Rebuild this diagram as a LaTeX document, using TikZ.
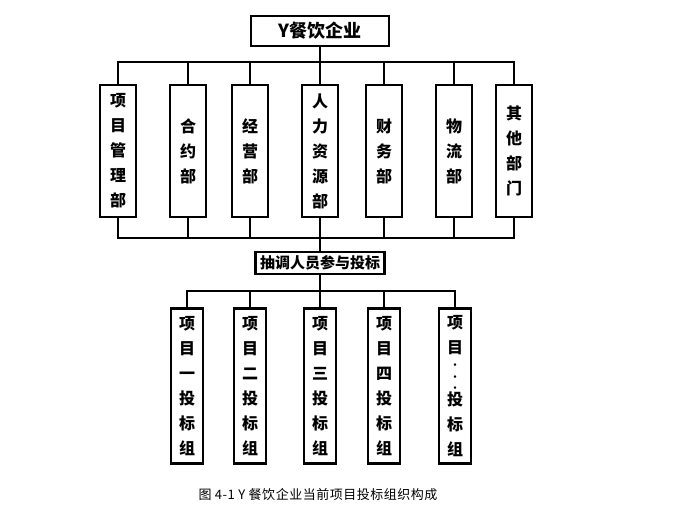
\documentclass[tikz,border=0pt]{standalone}
\usepackage{fontspec}
\newfontfamily\cjk{Noto Sans CJK SC}
\newfontfamily\cjkcap{Noto Sans CJK SC}[LetterSpace=4]
\tikzset{
  conn/.style={draw=black, line width=2.8pt},
  box/.style={draw=black, line width=2.8pt, fill=white, inner sep=0pt, align=center,
    font=\cjk\bfseries\fontsize{16}{25}\selectfont},
  deptbox/.style={box, minimum width=36pt, minimum height=132pt},
  teambox/.style={box, minimum width=32pt, minimum height=155pt}
}
\newcommand{\smalldot}{{\fontsize{9}{25}\selectfont ·}}
\begin{document}
\begin{tikzpicture}[x=1pt, y=-1pt]
      \useasboundingbox (0,0) rectangle (685,506);

      % Top
      \node[box, minimum width=138pt, minimum height=30pt, font=\cjk\bfseries\fontsize{18}{20}\selectfont] (corp) at (320,31) {Y餐饮企业};

      % Departments
      \node[deptbox] (d1) at (118,151) {项\\目\\管\\理\\部};
      \node[deptbox] (d2) at (188,151) {合\\约\\部};
      \node[deptbox] (d3) at (250,151) {经\\营\\部};
      \node[deptbox] (d4) at (320,151) {人\\力\\资\\源\\部};
      \node[deptbox] (d5) at (384,151) {财\\务\\部};
      \node[deptbox] (d6) at (454,151) {物\\流\\部};
      \node[deptbox] (d7) at (514,151) {其\\他\\部\\门};

      % Middle
      \node[box, minimum width=129pt, minimum height=22pt, font=\cjk\bfseries\fontsize{15}{17}\selectfont] (staff) at (320,263) {抽调人员参与投标};

      % Bidding teams
      \node[teambox] (g1) at (187,386) {项\\目\\一\\投\\标\\组};
      \node[teambox] (g2) at (250,386) {项\\目\\二\\投\\标\\组};
      \node[teambox] (g3) at (320,386) {项\\目\\三\\投\\标\\组};
      \node[teambox] (g4) at (384,386) {项\\目\\四\\投\\标\\组};
      \node[teambox] (g5) at (455,386) {项\\目\\[-10pt]\smalldot\\[-13pt]\smalldot\\[-14pt]\smalldot\\[-11pt]投\\标\\组};

      % Bus lines
      \coordinate (topbus) at (320,62);
      \coordinate (midbus) at (320,238);
      \coordinate (lowbus) at (320,291);

      \draw[conn] (corp.south) -- (topbus);
      \foreach \n in {d1,d2,d3,d4,d5,d6,d7}
        \draw[conn] (topbus) -| (\n.north);
      \foreach \n in {d1,d2,d3,d4,d5,d6,d7}
        \draw[conn] (\n.south) |- (midbus);
      \draw[conn] (midbus) -- (staff.north);
      \draw[conn] (staff.south) -- (lowbus);
      \foreach \n in {g1,g2,g3,g4,g5}
        \draw[conn] (lowbus) -| (\n.north);

      % Caption
      \node[font=\cjkcap\fontsize{13}{14}\selectfont] (caption) at (318,495) {图 4-1 Y 餐饮企业当前项目投标组织构成};

    \end{tikzpicture}
\end{document}
